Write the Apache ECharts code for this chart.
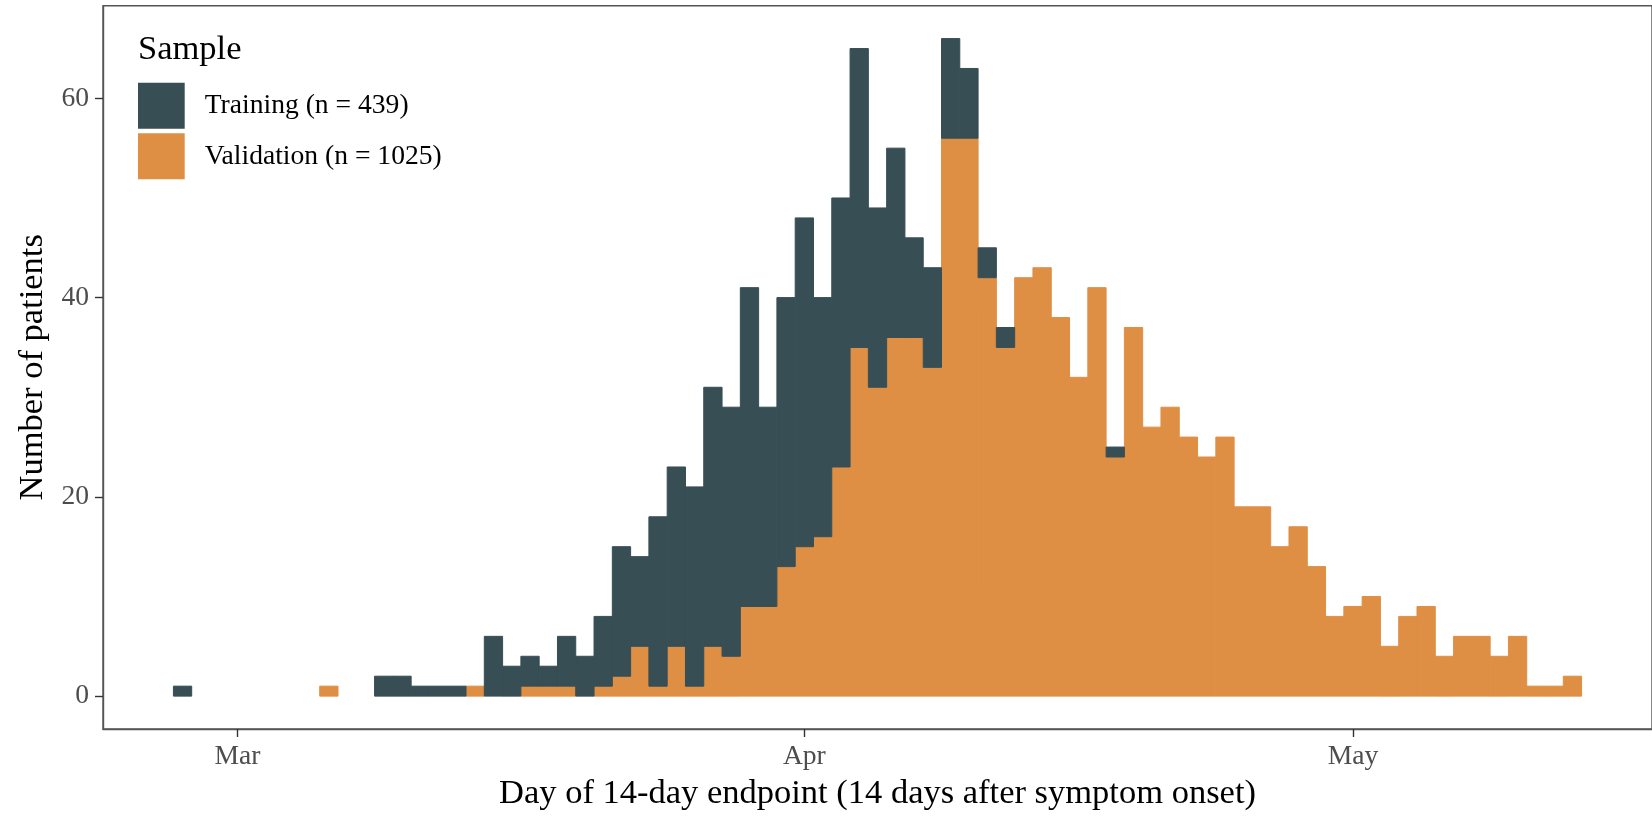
<!DOCTYPE html>
<html>
<head>
<meta charset="utf-8">
<script src="https://cdn.jsdelivr.net/npm/echarts@6/dist/echarts.min.js"></script>
<style>html,body{margin:0;padding:0;background:#fff}#c{width:1652px;height:816px}</style>
</head>
<body>
<div id="c"></div>
<script>
// ---- data (one bar per day) ----
const dates = [
  '2020-02-27','2020-02-28','2020-02-29',
  '2020-03-01','2020-03-02','2020-03-03','2020-03-04','2020-03-05','2020-03-06','2020-03-07','2020-03-08','2020-03-09','2020-03-10',
  '2020-03-11','2020-03-12','2020-03-13','2020-03-14','2020-03-15','2020-03-16','2020-03-17','2020-03-18','2020-03-19','2020-03-20',
  '2020-03-21','2020-03-22','2020-03-23','2020-03-24','2020-03-25','2020-03-26','2020-03-27','2020-03-28','2020-03-29','2020-03-30','2020-03-31',
  '2020-04-01','2020-04-02','2020-04-03','2020-04-04','2020-04-05','2020-04-06','2020-04-07','2020-04-08','2020-04-09','2020-04-10',
  '2020-04-11','2020-04-12','2020-04-13','2020-04-14','2020-04-15','2020-04-16','2020-04-17','2020-04-18','2020-04-19','2020-04-20',
  '2020-04-21','2020-04-22','2020-04-23','2020-04-24','2020-04-25','2020-04-26','2020-04-27','2020-04-28','2020-04-29','2020-04-30',
  '2020-05-01','2020-05-02','2020-05-03','2020-05-04','2020-05-05','2020-05-06','2020-05-07','2020-05-08','2020-05-09','2020-05-10',
  '2020-05-11','2020-05-12','2020-05-13'
];
const training = [
  1,0,0,
  0,0,0,0,0,0,0,0,2,2,1,1,1,0,6,3,3,2,5,4,7,13,9,17,18,20,26,25,32,20,27,
  33,24,27,30,18,19,10,10,10,7,3,2,0,0,0,0,0,1,0,0,0,0,0,0,0,0,0,0,0,0,
  0,0,0,0,0,0,0,0,0,0,0,0,0
];
const validation = [
  0,0,0,
  0,0,0,0,0,1,0,0,0,0,0,0,0,1,0,0,1,1,1,0,1,2,5,1,5,1,5,4,9,9,13,
  15,16,23,35,31,36,36,33,56,56,42,35,42,43,38,32,41,24,37,27,29,26,24,26,19,19,15,17,13,8,
  9,10,5,8,9,4,6,6,4,6,1,1,2
];
const seriesNames = ['Training (n = 439)', 'Validation (n = 1025)'];
const monthTickDates = ['2020-03-01', '2020-04-01', '2020-05-01'];
const monthTickLabels = ['Mar', 'Apr', 'May'];
const yTicks = [0, 20, 40, 60];

// ---- scales (x in days since 1 March) ----
const DAY = 86400000;
const origin = Date.parse(monthTickDates[0]);
const toDay = s => Math.round((Date.parse(s) - origin) / DAY);
const xs = dates.map(toDay);
const xTickVals = monthTickDates.map(toDay);
const firstEdge = xs[0] - 0.5, lastEdge = xs[xs.length - 1] + 0.5;
const xPad = (lastEdge - firstEdge) * 0.05;
const maxTotal = Math.max(...training.map((t, i) => t + validation[i]));
const yPad = maxTotal * 0.05;

// stacked histogram: validation at the bottom, training on top
const valData = xs.map((x, i) => [x, 0, validation[i]]);
const trainData = xs.map((x, i) => [x, validation[i], validation[i] + training[i]]);

const F = '"Liberation Serif", "Times New Roman", serif';
const axisCol = '#555555';
const colTrain = '#374E55', colVal = '#DF8F44';

function renderBar(params, api) {
  const x = api.value(0), y0 = api.value(1), y1 = api.value(2);
  if (!(y1 > y0)) return null;
  const a = api.coord([x - 0.5, y1]);
  const b = api.coord([x + 0.5, y0]);
  const c = api.visual('color');
  return {
    type: 'rect',
    shape: {x: a[0], y: a[1], width: b[0] - a[0], height: b[1] - a[1]},
    style: {fill: c, stroke: c, lineWidth: 1}
  };
}

const chart = echarts.init(document.getElementById('c'), null, {renderer: 'canvas'});
chart.setOption({
  animation: false,
  backgroundColor: '#ffffff',
  title: {
    text: 'Sample', left: 138, top: 32, padding: 0,
    textStyle: {fontFamily: F, fontSize: 34.5, fontWeight: 'normal', color: '#000'}
  },
  legend: {
    data: [seriesNames[0], seriesNames[1]],
    orient: 'vertical', left: 138, top: 82.7, padding: 0,
    itemWidth: 46.7, itemHeight: 46, itemGap: 4.6, icon: 'rect',
    selectedMode: false,
    itemStyle: {borderWidth: 0},
    textStyle: {fontFamily: F, fontSize: 27.6, color: '#000', padding: [0, 0, 0, 15]}
  },
  grid: {
    left: 103, right: -15.4, top: 5.7, bottom: 85,
    show: true, borderColor: axisCol, borderWidth: 1.4, backgroundColor: 'transparent'
  },
  xAxis: {
    type: 'value',
    min: firstEdge - xPad, max: lastEdge + xPad,
    splitLine: {show: false},
    axisLine: {show: true, onZero: false, lineStyle: {color: axisCol, width: 1.4}},
    axisTick: {show: true, length: 8, customValues: xTickVals, lineStyle: {color: '#333', width: 1.4}},
    axisLabel: {
      customValues: xTickVals, margin: 14,
      fontFamily: F, fontSize: 27.6, color: '#4D4D4D',
      formatter: v => monthTickLabels[xTickVals.indexOf(v)]
    },
    name: 'Day of 14-day endpoint (14 days after symptom onset)',
    nameLocation: 'middle', nameGap: 47,
    nameTextStyle: {fontFamily: F, fontSize: 34.5, color: '#000'}
  },
  yAxis: {
    type: 'value',
    min: -yPad, max: maxTotal + yPad,
    splitLine: {show: false},
    axisLine: {show: true, onZero: false, lineStyle: {color: axisCol, width: 1.4}},
    axisTick: {show: true, length: 8, customValues: yTicks, lineStyle: {color: '#333', width: 1.4}},
    axisLabel: {
      customValues: yTicks, margin: 14,
      fontFamily: F, fontSize: 27.6, color: '#4D4D4D'
    },
    name: 'Number of patients',
    nameLocation: 'middle', nameGap: 51,
    nameTextStyle: {fontFamily: F, fontSize: 34.5, color: '#000'}
  },
  series: [
    {
      name: seriesNames[1], type: 'custom', renderItem: renderBar,
      encode: {x: 0, y: [1, 2]},
      itemStyle: {color: colVal},
      data: valData
    },
    {
      name: seriesNames[0], type: 'custom', renderItem: renderBar,
      encode: {x: 0, y: [1, 2]},
      itemStyle: {color: colTrain},
      data: trainData
    }
  ]
});
</script>
</body>
</html>
